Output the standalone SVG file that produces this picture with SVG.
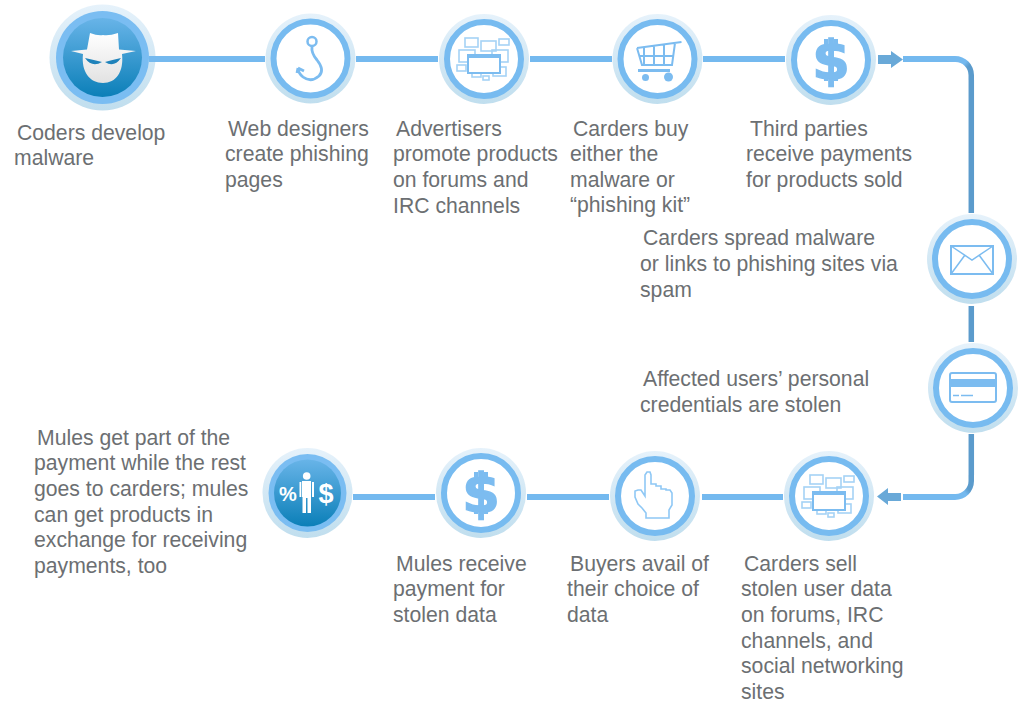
<svg xmlns="http://www.w3.org/2000/svg" xmlns:xlink="http://www.w3.org/1999/xlink" width="1026" height="702" viewBox="0 0 1026 702">
<style>
text{font-family:"Liberation Sans",Arial,sans-serif;font-size:21.2px;fill:#6c6f72}
.line{fill:none;stroke:#74b9ef;stroke-width:6}
.dark{fill:none;stroke:#5b9bcc;stroke-width:5.5}
.ic{fill:none;stroke:#7cbcf0;stroke-width:2}
.ict{fill:none;stroke:#a5d3f6;stroke-width:1.6}
.fl{fill:#7cbcf0}
.arrow{fill:#69a9d8}
.dollar{font-family:"DejaVu Sans",sans-serif;font-size:54px;font-weight:700;fill:#7cbcf0;stroke:#7cbcf0;stroke-width:1.5}
</style>
<defs>
<linearGradient id="halo" x1="0" y1="0" x2="0" y2="1"><stop offset="0" stop-color="#e6f2fb"/><stop offset="1" stop-color="#c0deee"/></linearGradient>
<linearGradient id="core" x1="0" y1="0" x2="0" y2="1"><stop offset="0" stop-color="#68b4e8"/><stop offset="1" stop-color="#0b7fb8"/></linearGradient>
<linearGradient id="face" x1="0" y1="0" x2="0" y2="1"><stop offset="0" stop-color="#ffffff"/><stop offset="1" stop-color="#e2e2e2"/></linearGradient>
<linearGradient id="turn" x1="0" y1="0" x2="1" y2="1"><stop offset="0.45" stop-color="#74b9ef"/><stop offset="0.6" stop-color="#5b9bcc"/></linearGradient>
<linearGradient id="turn2" x1="0" y1="1" x2="1" y2="0"><stop offset="0.45" stop-color="#74b9ef"/><stop offset="0.6" stop-color="#5b9bcc"/></linearGradient>
<g id="ring"><circle r="45" fill="url(#halo)"/><circle r="37" fill="#fff" stroke="#77bbf0" stroke-width="6"/></g>
<g id="windows">
<rect x="-19" y="-21" width="13" height="9" class="ict"/><rect x="-3" y="-18" width="15" height="10" class="ict"/><rect x="15" y="-20" width="10" height="6" class="ict"/>
<rect x="-25" y="-9" width="16" height="12" class="ict"/><rect x="8" y="-9" width="16" height="12" class="ict"/><rect x="-27" y="6" width="9" height="6" class="ict"/>
<rect x="9" y="8" width="13" height="9" class="ict"/><rect x="-12" y="14" width="9" height="4" class="ict"/><rect x="-1" y="17" width="6" height="4" class="ict"/>
<rect x="-16" y="-4" width="32" height="18" fill="#fff" stroke="#7cbcf0" stroke-width="2"/><rect x="-16" y="-4" width="32" height="3" class="fl"/>
</g>
<g id="dollar"><text x="0" y="19" text-anchor="middle" class="dollar">$</text><rect x="-7" y="-21" width="4" height="6" class="fl"/><rect x="3" y="-21" width="4" height="6" class="fl"/><rect x="-7" y="15" width="4" height="6" class="fl"/><rect x="3" y="15" width="4" height="6" class="fl"/></g>
</defs>

<g id="node-coders">
<circle cx="102.500" cy="57.500" r="53" fill="url(#halo)"/><circle cx="102.500" cy="57.500" r="46.500" fill="#7abdf2"/><circle cx="102.500" cy="57.500" r="39.500" fill="url(#core)"/>
<path d="M71 51L87 49.500L90 33Q98 36 103 35Q109 36 118 33L119 49.500L136 51L122 54C124 72 116 83 103 83C90 83 81 72 83 54Z" fill="url(#face)"/>
<path d="M85 58Q94 60 102 62Q92 68 85 58ZM121 58Q112 60 105 62Q114 68 121 58Z" fill="#1f83bb"/>
<text x="17" y="140">Coders develop</text><text x="14" y="165">malware</text>
</g>

<g id="node-web-designers">
<use xlink:href="#ring" href="#ring" x="310.500" y="58.500"/>
<circle cx="312" cy="41.500" r="4.500" class="ic" style="stroke-width:2.500"/>
<path class="ic" style="stroke-width:2.800" d="M312 46.500Q311 53 317 60Q325 70 319 76Q311 83 303 77Q298 73 298 68M298 68L297 73M298 68L304 71"/>
<text x="228" y="136">Web designers</text><text x="225" y="161">create phishing</text><text x="225" y="187">pages</text>
</g>

<g id="node-advertisers">
<use xlink:href="#ring" href="#ring" x="484" y="59"/><use xlink:href="#windows" href="#windows" x="484" y="59"/>
<text x="396" y="136">Advertisers</text><text x="393" y="161">promote products</text><text x="393" y="187">on forums and</text><text x="393" y="213">IRC channels</text>
</g>

<g id="node-carders-buy">
<use xlink:href="#ring" href="#ring" x="657.500" y="59"/>
<path class="ic" d="M637 48L681.500 42M637 48L642 65H672L675 43M644 47V65M654 46V65M664 45V65M639 56H673"/>
<rect x="638" y="69" width="32" height="3" class="fl"/>
<circle cx="645.500" cy="77.500" r="3.500" class="fl"/><circle cx="668.500" cy="77" r="4.500" class="fl"/>
<text x="573" y="136">Carders buy</text><text x="570" y="161">either the</text><text x="570" y="187">malware or</text><text x="570" y="212">“phishing kit”</text>
</g>

<g id="node-third-parties">
<use xlink:href="#ring" href="#ring" x="831" y="60"/><use xlink:href="#dollar" href="#dollar" x="831" y="60"/>
<text x="750" y="136">Third parties</text><text x="746" y="161">receive payments</text><text x="746" y="187">for products sold</text>
</g>

<g id="node-spam">
<use xlink:href="#ring" href="#ring" x="972" y="259"/>
<rect x="951" y="246" width="42" height="28" class="ic"/><path class="ic" style="stroke-width:1.500" d="M951 246L972 260L993 246M951 274L965 255M993 274L979 255"/>
<text x="643" y="245">Carders spread malware</text><text x="640" y="271">or links to phishing sites via</text><text x="640" y="297">spam</text>
</g>

<g id="node-stolen">
<use xlink:href="#ring" href="#ring" x="973" y="388"/>
<rect x="950" y="373" width="46" height="29" rx="2" class="ic"/><rect x="950" y="379" width="46" height="8" class="fl"/><path class="ic" style="stroke-width:1.500" d="M953 395.500H959M961 395.500H973"/>
<text x="643" y="386">Affected users’ personal</text><text x="640" y="412">credentials are stolen</text>
</g>

<g id="node-carders-sell">
<use xlink:href="#ring" href="#ring" x="829" y="496"/><use xlink:href="#windows" href="#windows" x="829" y="496"/>
<text x="744" y="571">Carders sell</text><text x="741" y="596">stolen user data</text><text x="741" y="622">on forums, IRC</text><text x="741" y="648">channels, and</text><text x="741" y="673">social networking</text><text x="741" y="699">sites</text>
</g>

<g id="node-buyers">
<use xlink:href="#ring" href="#ring" x="655" y="496"/>
<path class="ict" style="stroke:#8fc8f5" d="M645 475L647 472H650L651 475V484H656V486H661V489H666V490H670L672 493V505L669 510V518H646V513L642 508L638 504L635 497V491L638 490H641L645 496Z"/>
<text x="570" y="571">Buyers avail of</text><text x="567" y="596">their choice of</text><text x="567" y="622">data</text>
</g>

<g id="node-mules-receive">
<use xlink:href="#ring" href="#ring" x="481" y="493"/><use xlink:href="#dollar" href="#dollar" x="481" y="493"/>
<text x="396" y="571">Mules receive</text><text x="393" y="596">payment for</text><text x="393" y="622">stolen data</text>
</g>

<g id="node-mules-share">
<circle cx="307.500" cy="493" r="45" fill="url(#halo)"/><circle cx="307.500" cy="493" r="39" fill="#7abdf2"/><circle cx="307.500" cy="493" r="33.500" fill="url(#core)"/>
<circle cx="306.700" cy="476" r="3.800" fill="#fff"/>
<path d="M302 481H311V497H311V513H307.500V498H306V513H302.500V497H302Z M299.500 482H301.300V497H299.500Z M312 482H314V497H312Z" fill="#fff"/>
<text x="288" y="501" text-anchor="middle" style="font-size:20px;font-weight:700;fill:#fff">%</text>
<text x="326" y="503" text-anchor="middle" style="font-size:27px;font-weight:700;fill:#fff">$</text>
<text x="37" y="445">Mules get part of the</text><text x="34" y="470">payment while the rest</text><text x="34" y="496">goes to carders; mules</text><text x="34" y="522">can get products in</text><text x="34" y="547">exchange for receiving</text><text x="34" y="573">payments, too</text>
</g>

<g id="connectors">
<path class="line" d="M149 59H265M356 59H438M530 59H612M703 59H785"/>
<path class="line" d="M903 59H950"/>
<path d="M950 56H955A19 19 0 0 1 974 75V80H968.500V75A13 13 0 0 0 955 62H950Z" fill="url(#turn)"/>
<path class="dark" d="M971.300 80V213M971.300 306V342M971.300 434V475"/>
<path d="M950 500H955A19 19 0 0 0 974 481V475H968.500V481A13 13 0 0 1 955 494H950Z" fill="url(#turn2)"/>
<path class="line" d="M950 497H903"/>
<path class="line" d="M783 497H702M609 497H527M435 497H353"/>
<path class="arrow" d="M878 55H891V51L903 59.500L891 68V64H878Z"/>
<path class="arrow" d="M901 493H888V488L877 496.500L888 505V501H901Z"/>
</g>
</svg>
